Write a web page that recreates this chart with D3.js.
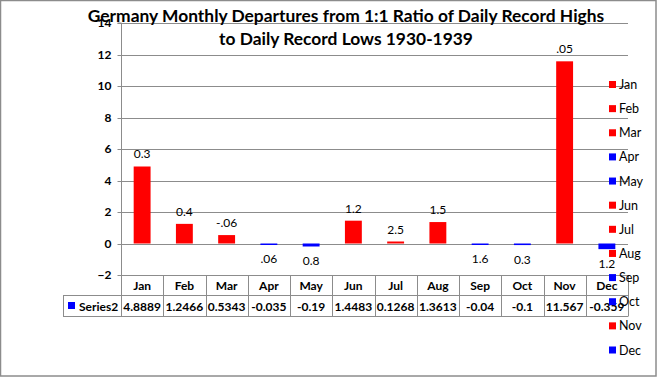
<!DOCTYPE html>
<html><head><meta charset="utf-8">
<script src="https://cdn.jsdelivr.net/npm/d3@7"></script>
<style>
html,body{margin:0;padding:0;background:#fff;}
svg{display:block;font-family:Lato,"Open Sans",sans-serif;}
</style></head>
<body>
<svg id="chart" width="657" height="377"></svg>
<script>
const months = ["Jan","Feb","Mar","Apr","May","Jun","Jul","Aug","Sep","Oct","Nov","Dec"];
const values = [4.8889,1.2466,0.5343,-0.035,-0.19,1.4483,0.1268,1.3613,-0.04,-0.1,11.567,-0.359];
const tableLabels = ["4.8889","1.2466","0.5343","-0.035","-0.19","1.4483","0.1268","1.3613","-0.04","-0.1","11.567","-0.359"];
const barLabels = ["0.3","0.4","-.06",".06","0.8","1.2","2.5","1.5","1.6","0.3",".05","1.2"];
const yTicks = [-2,0,2,4,6,8,10,12,14];
const seriesName = "Series2";
const titleLines = ["Germany Monthly Departures from 1:1 Ratio of Daily Record Highs","to Daily Record Lows 1930-1939"];

const RED = "#ff0000", BLUE = "#0000ff", GRID = "#8c8c8c";
const svg = d3.select("#chart");
const W = 657, H = 377;
const L = 121, R = 628, T = 23, B = 275;

// outer border
svg.append("rect").attr("x",0.5).attr("y",0.5).attr("width",W-1.5).attr("height",H-1.5)
  .attr("fill","#fff").attr("stroke",GRID).attr("stroke-width",1.5);

const y = d3.scaleLinear().domain([-2,14]).range([B,T]);
const x = d3.scaleBand().domain(months).range([L,R]).paddingInner(0.6).paddingOuter(0.3);
const xc = d3.scaleBand().domain(months).range([L,R]).padding(0);

// gridlines
svg.append("g").selectAll("line").data(yTicks.filter(t=>t>-2)).join("line")
  .attr("x1",L).attr("x2",R).attr("y1",d=>Math.round(y(d))+0.5).attr("y2",d=>Math.round(y(d))+0.5)
  .attr("stroke",GRID).attr("stroke-width",1);

// y axis
const yAxis = d3.axisLeft(y).tickValues(yTicks).tickSize(4).tickPadding(6).tickFormat(d3.format("d"));
const ga = svg.append("g").attr("transform",`translate(${L+0.5},0)`).call(yAxis);
ga.select(".domain").attr("stroke",GRID).attr("d",`M-4,${T}H0V${B}`);
ga.selectAll(".tick line").attr("stroke",GRID);
ga.selectAll(".tick").attr("transform",d=>`translate(0,${Math.round(y(d))+0.5})`);
ga.selectAll(".tick text").attr("fill","#000").attr("font-size",12).attr("font-weight","bold")
  .attr("font-family","Lato,sans-serif");

// bars
svg.append("g").selectAll("rect").data(values).join("rect")
  .attr("x",(d,i)=>x(months[i]))
  .attr("width",x.bandwidth())
  .attr("y",d=>y(Math.max(0,d)))
  .attr("height",d=>Math.max(1.5,Math.abs(y(d)-y(0))))
  .attr("fill",d=>d>=0?RED:BLUE);

// bar labels
svg.append("g").selectAll("text").data(values).join("text")
  .attr("x",(d,i)=>x(months[i])+x.bandwidth()/2)
  .attr("y",d=>d>=0 ? y(d)-8 : y(Math.min(d,-0.04))+19)
  .attr("text-anchor","middle").attr("font-size",12).attr("fill","#000")
  .text((d,i)=>barLabels[i]);

// data table
const tg = svg.append("g").attr("stroke",GRID).attr("fill","none");
tg.append("line").attr("x1",L).attr("x2",R).attr("y1",B+0.5).attr("y2",B+0.5);
tg.append("line").attr("x1",63).attr("x2",R).attr("y1",295.5).attr("y2",295.5);
tg.append("line").attr("x1",63).attr("x2",R).attr("y1",316.5).attr("y2",316.5);
tg.append("line").attr("x1",63.5).attr("x2",63.5).attr("y1",295).attr("y2",316.5);
tg.selectAll("line.v").data(months.concat(["end"])).join("line").attr("class","v")
  .attr("x1",(d,i)=>Math.round(i<12?xc(d):R)+0.5).attr("x2",(d,i)=>Math.round(i<12?xc(d):R)+0.5)
  .attr("y1",B).attr("y2",316.5);

svg.append("g").selectAll("text").data(months).join("text")
  .attr("x",d=>xc(d)+xc.bandwidth()/2).attr("y",290)
  .attr("text-anchor","middle").attr("font-size",12).attr("font-weight","bold").text(d=>d);
svg.append("g").selectAll("text").data(tableLabels).join("text")
  .attr("x",(d,i)=>xc(months[i])+xc.bandwidth()/2).attr("y",310.5)
  .attr("text-anchor","middle").attr("font-size",12).attr("font-weight","bold").text(d=>d);
svg.append("rect").attr("x",68).attr("y",302).attr("width",7).attr("height",7).attr("fill",BLUE);
svg.append("text").attr("x",79).attr("y",310.5).attr("font-size",12).attr("font-weight","bold").text(seriesName);

// legend
const lg = svg.append("g");
const ly = d3.scaleLinear().domain([0,11]).range([84.5,350]);
lg.selectAll("rect").data(values).join("rect")
  .attr("x",609).attr("y",(d,i)=>ly(i)-3.5).attr("width",7).attr("height",7)
  .attr("fill",d=>d>=0?RED:BLUE);
lg.selectAll("text").data(months).join("text")
  .attr("x",619).attr("y",(d,i)=>ly(i)+4.5).attr("font-size",12.5).text(d=>d);

// title
svg.append("g").selectAll("text").data(titleLines).join("text")
  .attr("x",346).attr("y",(d,i)=>22+i*23)
  .attr("text-anchor","middle").attr("font-size",17.4).attr("font-weight","bold").text(d=>d);
</script>
</body></html>
